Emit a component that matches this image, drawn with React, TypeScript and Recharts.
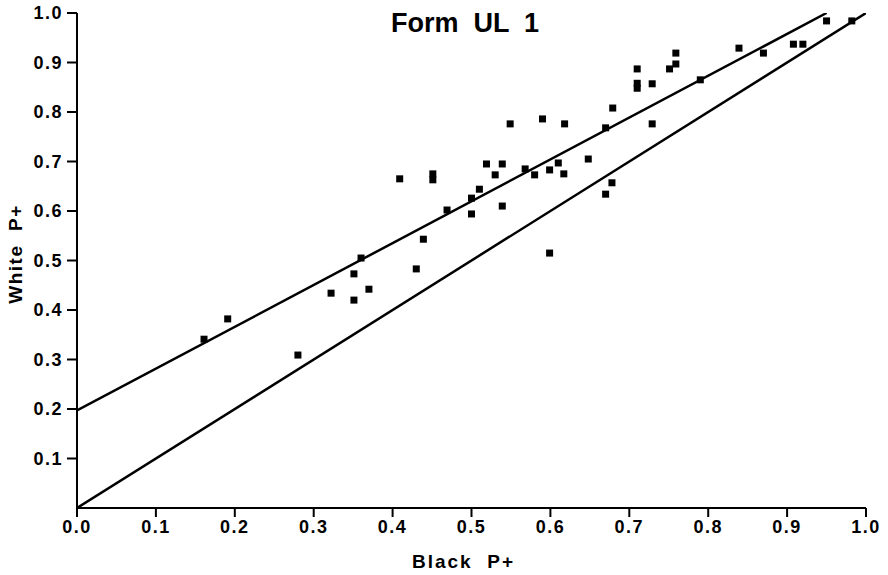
import { ScatterChart, Scatter, XAxis, YAxis, Label } from 'recharts';

const FONT = '"Liberation Sans", Arial, Helvetica, sans-serif';

// item P+ values, black group (x) vs white group (y)
const blackP = [
  0.161, 0.191, 0.28, 0.322, 0.351, 0.351, 0.36, 0.37, 0.43, 0.439,
  0.409, 0.451, 0.451, 0.469, 0.5, 0.5, 0.51, 0.519, 0.53, 0.539,
  0.539, 0.549, 0.568, 0.58, 0.59, 0.599, 0.599, 0.61, 0.617, 0.618,
  0.648, 0.67, 0.678, 0.67, 0.679, 0.71, 0.71, 0.71, 0.729, 0.729,
  0.751, 0.759, 0.759, 0.79, 0.839, 0.87, 0.908, 0.92, 0.95, 0.982,
];
const whiteP = [
  0.341, 0.382, 0.309, 0.434, 0.42, 0.473, 0.505, 0.442, 0.483, 0.543,
  0.665, 0.675, 0.663, 0.602, 0.626, 0.594, 0.644, 0.695, 0.673, 0.695,
  0.61, 0.776, 0.685, 0.673, 0.786, 0.683, 0.515, 0.697, 0.675, 0.776,
  0.705, 0.634, 0.657, 0.768, 0.808, 0.887, 0.858, 0.848, 0.857, 0.776,
  0.887, 0.919, 0.897, 0.865, 0.929, 0.919, 0.937, 0.937, 0.984, 0.984,
];

// fitted line and identity line end points
const fitX = [0, 0.95];
const fitY = [0.197, 1.0];
const equalX = [0, 1];
const equalY = [0, 1];

const xTicks = [0, 0.1, 0.2, 0.3, 0.4, 0.5, 0.6, 0.7, 0.8, 0.9, 1.0];
const yTicks = [0.1, 0.2, 0.3, 0.4, 0.5, 0.6, 0.7, 0.8, 0.9, 1.0];

const points = blackP.map((x, i) => ({ x, y: whiteP[i] }));
const fitLine = fitX.map((x, i) => ({ x, y: fitY[i] }));
const equalLine = equalX.map((x, i) => ({ x, y: equalY[i] }));

const tickStyle = { fill: '#000', fontSize: 18, fontWeight: 700, fontFamily: FONT, letterSpacing: 1.5 };

const Square = (props: any) => (
  <rect x={props.cx - 3.5} y={props.cy - 3.5} width={7} height={7} fill="#000" />
);
const NoDot = () => <g />;

export default function App() {
  return (
    <div style={{ position: 'absolute', left: 0, top: 0, width: 888, height: 575, background: '#fff' }}>
      <div
        style={{
          position: 'absolute', left: 465, top: 9.5, transform: 'translateX(-50%)',
          fontFamily: FONT, fontWeight: 700, fontSize: 27, lineHeight: '27px',
          whiteSpace: 'pre', color: '#000',
        }}
      >
        {'Form  UL  1'}
      </div>
      <ScatterChart width={888} height={575} margin={{ top: 13, right: 22, bottom: 0, left: 0 }}>
        <XAxis
          type="number"
          dataKey="x"
          domain={[0, 1]}
          ticks={xTicks}
          allowDataOverflow
          height={67}
          tickSize={9}
          tickMargin={3}
          tick={tickStyle}
          tickFormatter={(v: number) => v.toFixed(1)}
          axisLine={{ stroke: '#000', strokeWidth: 2 }}
          tickLine={{ stroke: '#000', strokeWidth: 2 }}
        >
          <Label
            content={(p: any) => (
              <text
                x={p.viewBox.x + p.viewBox.width / 2 - 8}
                y={568}
                textAnchor="middle"
                style={{ whiteSpace: 'pre' }}
                fontFamily={FONT}
                fontWeight={700}
                fontSize={19}
                letterSpacing={2}
                fill="#000"
              >
                {'Black  P+'}
              </text>
            )}
          />
        </XAxis>
        <YAxis
          type="number"
          dataKey="y"
          domain={[0, 1]}
          ticks={yTicks}
          allowDataOverflow
          width={77}
          tickSize={10}
          tickMargin={4}
          tick={tickStyle}
          tickFormatter={(v: number) => v.toFixed(1)}
          axisLine={{ stroke: '#000', strokeWidth: 2 }}
          tickLine={{ stroke: '#000', strokeWidth: 2 }}
        >
          <Label
            content={() => (
              <text
                x={0}
                y={0}
                transform="translate(22, 254) rotate(-90)"
                textAnchor="middle"
                style={{ whiteSpace: 'pre' }}
                fontFamily={FONT}
                fontWeight={700}
                fontSize={19}
                letterSpacing={1.5}
                fill="#000"
              >
                {'White  P+'}
              </text>
            )}
          />
        </YAxis>
        <Scatter data={equalLine} line={{ stroke: '#000', strokeWidth: 2.5 }} shape={NoDot} isAnimationActive={false} />
        <Scatter data={fitLine} line={{ stroke: '#000', strokeWidth: 2.5 }} shape={NoDot} isAnimationActive={false} />
        <Scatter data={points} shape={Square} isAnimationActive={false} />
      </ScatterChart>
    </div>
  );
}
